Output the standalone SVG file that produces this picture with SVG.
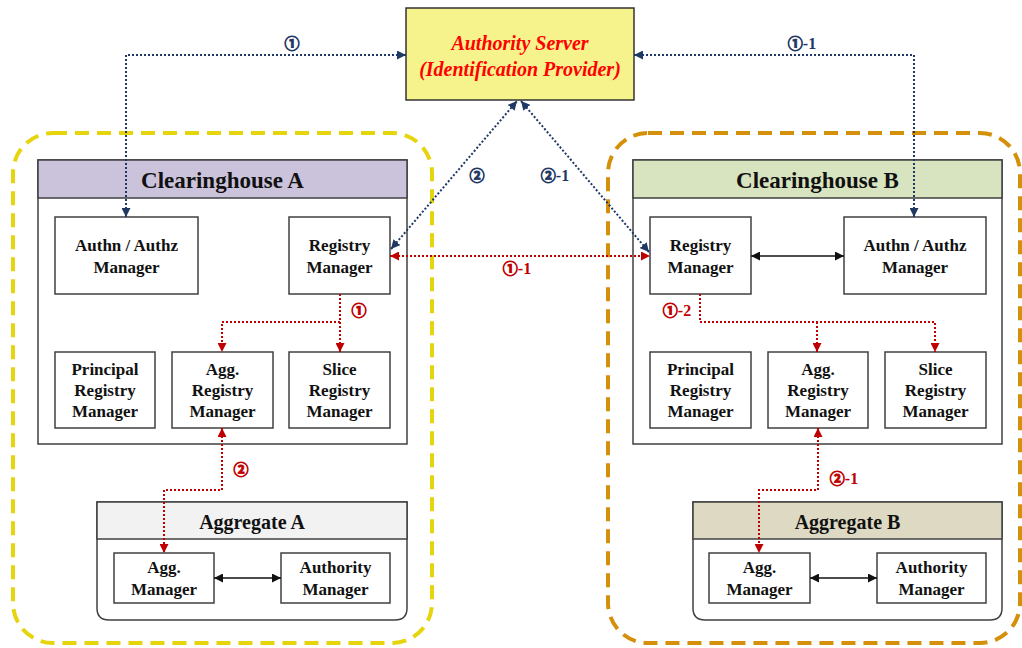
<svg xmlns="http://www.w3.org/2000/svg" width="1022" height="648" viewBox="0 0 1022 648">
  <style>
    .box { fill: #ffffff; stroke: #404040; stroke-width: 1.5; }
    .t { font-family: "Liberation Serif", "Times New Roman", serif; font-weight: bold; font-size: 17px; fill: #111111; text-anchor: middle; }
    .hdr { font-family: "Liberation Serif", "Times New Roman", serif; font-weight: bold; font-size: 23px; fill: #111111; text-anchor: middle; }
    .ahdr { font-family: "Liberation Serif", "Times New Roman", serif; font-weight: bold; font-size: 20px; fill: #111111; text-anchor: middle; }
    .auth { font-family: "Liberation Serif", "Times New Roman", serif; font-weight: bold; font-style: italic; font-size: 20px; fill: #FF0000; text-anchor: middle; }
    .lbl { font-family: "Liberation Serif", "Noto Sans CJK JP", serif; font-weight: bold; font-size: 16px; text-anchor: middle; stroke-width: 0; }
    .cd { font-family: "Noto Sans CJK JP", "DejaVu Sans", sans-serif; font-weight: bold; font-size: 15px; stroke-width: 0.9; }
    .lb { fill: #1F3864; stroke: #1F3864; }
    .lr { fill: #C00000; stroke: #C00000; }
    .dotb { fill: none; stroke: #1F3864; stroke-width: 2; stroke-dasharray: 2 2; }
    .dotr { fill: none; stroke: #C00000; stroke-width: 2; stroke-dasharray: 2 2; }
    .solid { fill: none; stroke: #111111; stroke-width: 1.3; }
  </style>
  <defs>
    <marker id="ab" viewBox="0 0 10 10" refX="10" refY="5" markerUnits="userSpaceOnUse" markerWidth="9" markerHeight="9" orient="auto-start-reverse">
      <path d="M0,0 L10,5 L0,10 z" fill="#1F3864"/>
    </marker>
    <marker id="ar" viewBox="0 0 10 10" refX="10" refY="5" markerUnits="userSpaceOnUse" markerWidth="9" markerHeight="9" orient="auto-start-reverse">
      <path d="M0,0 L10,5 L0,10 z" fill="#C00000"/>
    </marker>
    <marker id="ak" viewBox="0 0 10 10" refX="10" refY="5" markerUnits="userSpaceOnUse" markerWidth="9" markerHeight="9" orient="auto-start-reverse">
      <path d="M0,0 L10,5 L0,10 z" fill="#111111"/>
    </marker>
  </defs>

  <rect width="1022" height="648" fill="#ffffff"/>

  <!-- Domains -->
  <g id="domainA">
    <rect x="13" y="133" width="419" height="510" rx="40" ry="40" fill="none" stroke="#E6D40C" stroke-width="4" stroke-dasharray="14 8"/>
  </g>
  <g id="domainB">
    <rect x="608" y="133" width="412" height="510" rx="40" ry="40" fill="none" stroke="#D4900A" stroke-width="4" stroke-dasharray="14 8"/>
  </g>

  <!-- Authority Server -->
  <g id="authorityServer">
    <rect x="406" y="8" width="228" height="92" fill="#F7F38C" stroke="#333333" stroke-width="1.5"/>
    <text class="auth" x="520" y="50">Authority Server</text>
    <text class="auth" x="520" y="76">(Identification Provider)</text>
  </g>

  <!-- Clearinghouse A -->
  <g id="clearinghouseA">
    <rect x="38" y="160" width="369" height="284" class="box"/>
    <rect x="38" y="160" width="369" height="38" fill="#CBC3DB" stroke="#404040" stroke-width="1.5"/>
    <text class="hdr" x="222.5" y="188">Clearinghouse A</text>
  </g>
  <g id="authnA">
    <rect x="55" y="217" width="143" height="77" class="box"/>
    <text class="t" x="126.5" y="251">Authn / Authz</text>
    <text class="t" x="126.5" y="273">Manager</text>
  </g>
  <g id="registryA">
    <rect x="289" y="217" width="101" height="77" class="box"/>
    <text class="t" x="339.5" y="251">Registry</text>
    <text class="t" x="339.5" y="273">Manager</text>
  </g>
  <g id="principalA">
    <rect x="55" y="352" width="100" height="76" class="box"/>
    <text class="t" x="105" y="375">Principal</text>
    <text class="t" x="105" y="396">Registry</text>
    <text class="t" x="105" y="417">Manager</text>
  </g>
  <g id="aggRegA">
    <rect x="172" y="352" width="101" height="76" class="box"/>
    <text class="t" x="222.5" y="375">Agg.</text>
    <text class="t" x="222.5" y="396">Registry</text>
    <text class="t" x="222.5" y="417">Manager</text>
  </g>
  <g id="sliceA">
    <rect x="289" y="352" width="101" height="76" class="box"/>
    <text class="t" x="339.5" y="375">Slice</text>
    <text class="t" x="339.5" y="396">Registry</text>
    <text class="t" x="339.5" y="417">Manager</text>
  </g>

  <!-- Clearinghouse B -->
  <g id="clearinghouseB">
    <rect x="633" y="160" width="369" height="284" class="box"/>
    <rect x="633" y="160" width="369" height="38" fill="#D8E4BF" stroke="#404040" stroke-width="1.5"/>
    <text class="hdr" x="817.5" y="188">Clearinghouse B</text>
  </g>
  <g id="registryB">
    <rect x="650" y="217" width="101" height="77" class="box"/>
    <text class="t" x="700.5" y="251">Registry</text>
    <text class="t" x="700.5" y="273">Manager</text>
  </g>
  <g id="authnB">
    <rect x="844" y="217" width="142" height="77" class="box"/>
    <text class="t" x="915" y="251">Authn / Authz</text>
    <text class="t" x="915" y="273">Manager</text>
  </g>
  <g id="principalB">
    <rect x="650" y="352" width="101" height="76" class="box"/>
    <text class="t" x="700.5" y="375">Principal</text>
    <text class="t" x="700.5" y="396">Registry</text>
    <text class="t" x="700.5" y="417">Manager</text>
  </g>
  <g id="aggRegB">
    <rect x="768" y="352" width="100" height="76" class="box"/>
    <text class="t" x="818" y="375">Agg.</text>
    <text class="t" x="818" y="396">Registry</text>
    <text class="t" x="818" y="417">Manager</text>
  </g>
  <g id="sliceB">
    <rect x="885" y="352" width="101" height="76" class="box"/>
    <text class="t" x="935.5" y="375">Slice</text>
    <text class="t" x="935.5" y="396">Registry</text>
    <text class="t" x="935.5" y="417">Manager</text>
  </g>

  <!-- Aggregate A -->
  <g id="aggregateA">
    <path d="M97,502 H407 V608 Q407,620 395,620 H109 Q97,620 97,608 Z" class="box"/>
    <rect x="97" y="502" width="310" height="37" fill="#F2F2F2" stroke="#404040" stroke-width="1.5"/>
    <text class="ahdr" x="252" y="529">Aggregate A</text>
  </g>
  <g id="aggMgrA">
    <rect x="114" y="553" width="100" height="50" class="box"/>
    <text class="t" x="164" y="573">Agg.</text>
    <text class="t" x="164" y="595">Manager</text>
  </g>
  <g id="authMgrA">
    <rect x="281" y="553" width="109" height="50" class="box"/>
    <text class="t" x="335.5" y="573">Authority</text>
    <text class="t" x="335.5" y="595">Manager</text>
  </g>

  <!-- Aggregate B -->
  <g id="aggregateB">
    <path d="M693,502 H1002 V608 Q1002,620 990,620 H705 Q693,620 693,608 Z" class="box"/>
    <rect x="693" y="502" width="309" height="37" fill="#DDD9C3" stroke="#404040" stroke-width="1.5"/>
    <text class="ahdr" x="847.5" y="529">Aggregate B</text>
  </g>
  <g id="aggMgrB">
    <rect x="709" y="553" width="101" height="50" class="box"/>
    <text class="t" x="759.5" y="573">Agg.</text>
    <text class="t" x="759.5" y="595">Manager</text>
  </g>
  <g id="authMgrB">
    <rect x="877" y="553" width="109" height="50" class="box"/>
    <text class="t" x="931.5" y="573">Authority</text>
    <text class="t" x="931.5" y="595">Manager</text>
  </g>

  <!-- Connectors -->
  <g id="connectors">
    <path class="dotb" d="M126,217 V55 H406" marker-start="url(#ab)" marker-end="url(#ab)"/>
    <path class="dotb" d="M634,55 H914 V217" marker-start="url(#ab)" marker-end="url(#ab)"/>
    <path class="dotb" d="M391,249 L517,101" marker-start="url(#ab)" marker-end="url(#ab)"/>
    <path class="dotb" d="M521,101 L649,252" marker-start="url(#ab)" marker-end="url(#ab)"/>

    <path class="dotr" d="M390,256 H650" marker-start="url(#ar)" marker-end="url(#ar)"/>
    <path class="dotr" d="M340,294 V352" marker-end="url(#ar)"/>
    <path class="dotr" d="M340,322 H222 V352" marker-end="url(#ar)"/>
    <path class="dotr" d="M700,294 V322 H935 V352" marker-end="url(#ar)"/>
    <path class="dotr" d="M817,322 V352" marker-end="url(#ar)"/>
    <path class="dotr" d="M222,428 V490 H164 V553" marker-start="url(#ar)" marker-end="url(#ar)"/>
    <path class="dotr" d="M818,428 V490 H759 V553" marker-start="url(#ar)" marker-end="url(#ar)"/>

    <path class="solid" d="M751,256 H844" marker-start="url(#ak)" marker-end="url(#ak)"/>
    <path class="solid" d="M214,578 H281" marker-start="url(#ak)" marker-end="url(#ak)"/>
    <path class="solid" d="M810,578 H877" marker-start="url(#ak)" marker-end="url(#ak)"/>

    <text class="lbl lb" x="292" y="49"><tspan class="cd">①</tspan></text>
    <text class="lbl lb" x="802" y="49"><tspan class="cd">①</tspan>-1</text>
    <text class="lbl lb" x="477" y="181"><tspan class="cd">②</tspan></text>
    <text class="lbl lb" x="555" y="181"><tspan class="cd">②</tspan>-1</text>
    <text class="lbl lr" x="517" y="274"><tspan class="cd">①</tspan>-1</text>
    <text class="lbl lr" x="359" y="316"><tspan class="cd">①</tspan></text>
    <text class="lbl lr" x="677" y="316"><tspan class="cd">①</tspan>-2</text>
    <text class="lbl lr" x="241" y="475"><tspan class="cd">②</tspan></text>
    <text class="lbl lr" x="844" y="484"><tspan class="cd">②</tspan>-1</text>
  </g>
</svg>
